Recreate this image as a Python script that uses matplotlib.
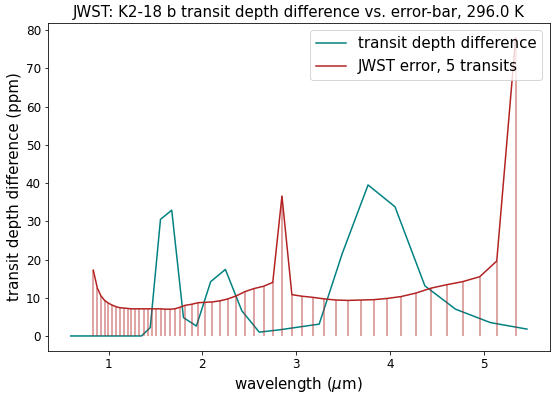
import numpy as np
import matplotlib
matplotlib.use("Agg")
import matplotlib.pyplot as plt

# JWST error grid (microns) and error bars (ppm)
wl_err = [0.837, 0.880, 0.918, 0.957, 0.997, 1.035, 1.074, 1.117, 1.160, 1.202,
          1.241, 1.284, 1.327, 1.372, 1.415, 1.461, 1.507, 1.556, 1.606, 1.656,
          1.705, 1.759, 1.814, 1.886, 1.957, 2.029, 2.106, 2.188, 2.273, 2.362,
          2.454, 2.550, 2.652, 2.750, 2.848, 2.954, 3.061, 3.178, 3.298, 3.422,
          3.553, 3.688, 3.830, 3.965, 4.117, 4.273, 4.436, 4.603, 4.773, 4.957,
          5.138, 5.340]
err = [17.2, 12.5, 10.5, 9.3, 8.6, 8.1, 7.7, 7.4, 7.3, 7.2,
       7.1, 7.1, 7.1, 7.1, 7.1, 7.1, 7.1, 7.1, 7.0, 7.0,
       7.1, 7.5, 8.0, 8.3, 8.7, 8.8, 8.9, 9.2, 9.7, 10.5,
       11.6, 12.4, 13.0, 14.0, 36.6, 10.8, 10.4, 10.1, 9.7, 9.4,
       9.3, 9.4, 9.5, 9.8, 10.3, 11.2, 12.5, 13.4, 14.2, 15.5,
       19.6, 78.0]

# transit depth difference (ppm)
wl_diff = [0.596, 1.0, 1.35, 1.444, 1.553, 1.673, 1.798, 1.936, 2.088, 2.245,
           2.42, 2.606, 2.82, 3.245, 3.49, 3.766, 4.053, 4.372, 4.699, 5.07, 5.46]
diff = [0.0, 0.0, 0.0, 2.2, 30.5, 32.9, 4.8, 2.6, 14.2, 17.4,
        6.6, 1.0, 1.6, 3.1, 21.5, 39.5, 33.8, 13.1, 7.0, 3.5, 1.8]

fig = plt.figure(figsize=(557/72, 401/72), dpi=72)
ax = fig.add_subplot(111)
fig.subplots_adjust(left=0.086, right=0.987, top=0.943, bottom=0.125)

ax.plot(wl_diff, diff, color="teal", lw=1.5, label="transit depth difference")
ax.plot(wl_err, err, color="firebrick", lw=1.5, label="JWST error, 5 transits")
ax.vlines(wl_err, 0, err, color="firebrick", alpha=0.4, lw=2)

ax.set_title("JWST: K2-18 b transit depth difference vs. error-bar, 296.0 K", fontsize=15)
ax.set_xlabel(r"wavelength ($\mu$m)", fontsize=15)
ax.set_ylabel("transit depth difference (ppm)", fontsize=15)
ax.tick_params(labelsize=12)
ax.set_yticks(np.arange(0, 81, 10))
ax.legend(loc="upper right", fontsize=15)

fig.savefig("out.png", dpi=72)
